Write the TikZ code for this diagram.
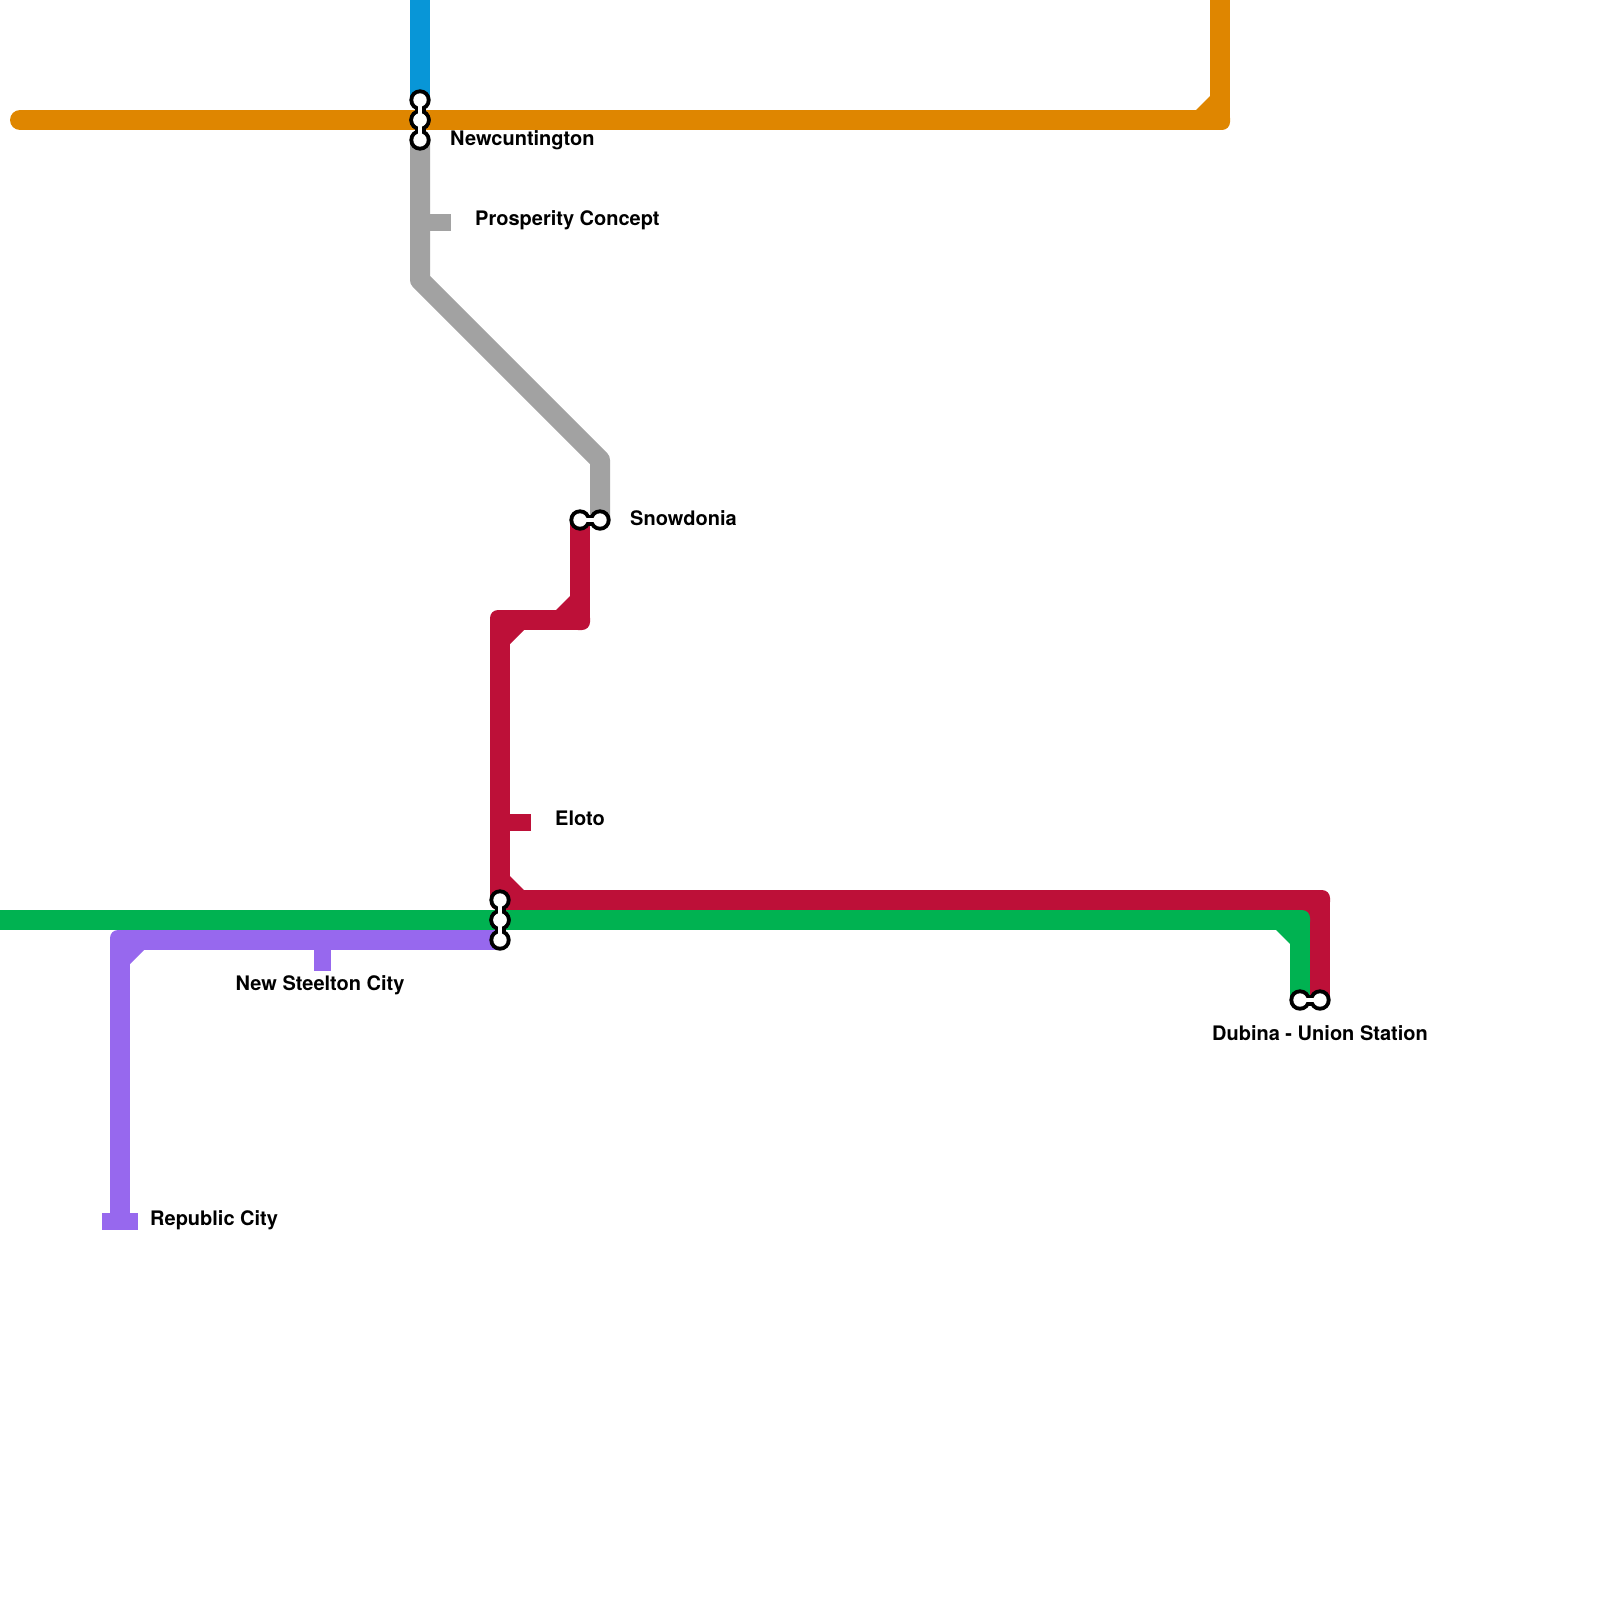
\documentclass[tikz,border=0pt]{standalone}
\usepackage{fontspec}
\setmainfont{TeX Gyre Heros}
\definecolor{bluel}{HTML}{0896D7}
\definecolor{orangel}{HTML}{DF8600}
\definecolor{grayl}{HTML}{A2A2A2}
\definecolor{redl}{HTML}{BD1038}
\definecolor{greenl}{HTML}{00B251}
\definecolor{purplel}{HTML}{9768EE}
\tikzset{
  line/.style={line width=20pt, line join=bevel},
  elbow/.style={rounded corners=8pt},
  label/.style={anchor=base west, inner sep=0pt, font=\fontsize{20pt}{22pt}\selectfont\bfseries},
}
\begin{document}
\begin{tikzpicture}[x=1pt, y=-1pt]
\useasboundingbox (0, 0) rectangle (1600, 1600);
% Stations
\coordinate (newa) at (420, 100);
\coordinate (newb) at (420, 120);
\coordinate (newc) at (420, 140);
\coordinate (snowa) at (580, 520);
\coordinate (snowb) at (600, 520);
\coordinate (cena) at (500, 900);
\coordinate (cenb) at (500, 920);
\coordinate (cenc) at (500, 940);
\coordinate (duba) at (1300, 1000);
\coordinate (dubb) at (1320, 1000);

% Lines
\draw[line, bluel] (420, 0) -- (newa);
\draw[line, orangel, line cap=round] (20, 120) -- (newb) -- (1220, 120) -- (1220, 0);
\fill[orangel, elbow] (1210, 110) rectangle (1230, 130);
\fill[orangel] (1210, 96) -- (1196, 110) -- (1210, 110) -- cycle;
\draw[line, grayl, line join=round] (newc) -- (420, 280) -- (600, 460) -- (snowb);
\fill[grayl] (430, 213.7) rectangle (451, 230.7);
\draw[line, redl] (snowa) -- (580, 620) -- (500, 620) -- (cena) -- (1320, 900) -- (dubb);
\foreach \x/\y in {580/620, 500/620, 500/900, 1320/900} {
  \fill[redl, elbow] (\x-10, \y-10) rectangle (\x+10, \y+10);
}
\fill[redl] (570, 596) -- (556, 610) -- (570, 610) -- cycle;
\fill[redl] (510, 630) -- (524, 630) -- (510, 644) -- cycle;
\fill[redl] (510, 876) -- (524, 890) -- (510, 890) -- cycle;
\fill[redl] (1296, 910) -- (1310, 924) -- (1310, 910) -- cycle;
\fill[redl] (510, 814) rectangle (531, 831);
\draw[line, greenl] (0, 920) -- (cenb) -- (1300, 920) -- (duba);
\fill[greenl, elbow] (1290, 910) rectangle (1310, 930);
\fill[greenl] (1276, 930) -- (1290, 944) -- (1290, 930) -- cycle;
\draw[line, purplel] (cenc) -- (120, 940) -- (120, 1222);
\fill[purplel, elbow] (110, 930) rectangle (130, 950);
\fill[purplel] (130, 950) -- (144, 950) -- (130, 964) -- cycle;
\fill[purplel] (314, 950) rectangle (331, 971);
\fill[purplel] (102, 1213) rectangle (138, 1230);

% Interchanges
\foreach \a/\b in {newa/newb, newb/newc, snowa/snowb, cena/cenb, cenb/cenc, duba/dubb} {
  \draw[line width=11pt, black] (\a) -- (\b);
  \fill[black] (\a) circle (10.7pt);
  \fill[black] (\b) circle (10.7pt);
}
\foreach \a/\b in {newa/newb, newb/newc, snowa/snowb, cena/cenb, cenb/cenc, duba/dubb} {
  \draw[line width=4pt, white] (\a) -- (\b);
  \fill[white] (\a) circle (6.7pt);
  \fill[white] (\b) circle (6.7pt);
}

% Labels
\node[label] (newlabel) at (450, 145.4) {Newcuntington};
\node[label] (prolabel) at (475, 225.4) {Prosperity Concept};
\node[label] (snowlabel) at (630, 525.4) {Snowdonia};
\node[label] (eloto) at (555, 825.4) {Eloto};
\node[label, anchor=base] (steellabel) at (320, 990.2) {New Steelton City};
\node[label] (replabel) at (150, 1225.4) {Republic City};
\node[label, anchor=base] (dublabel) at (1320, 1040.2) {Dubina - Union Station};
\end{tikzpicture}
\end{document}
